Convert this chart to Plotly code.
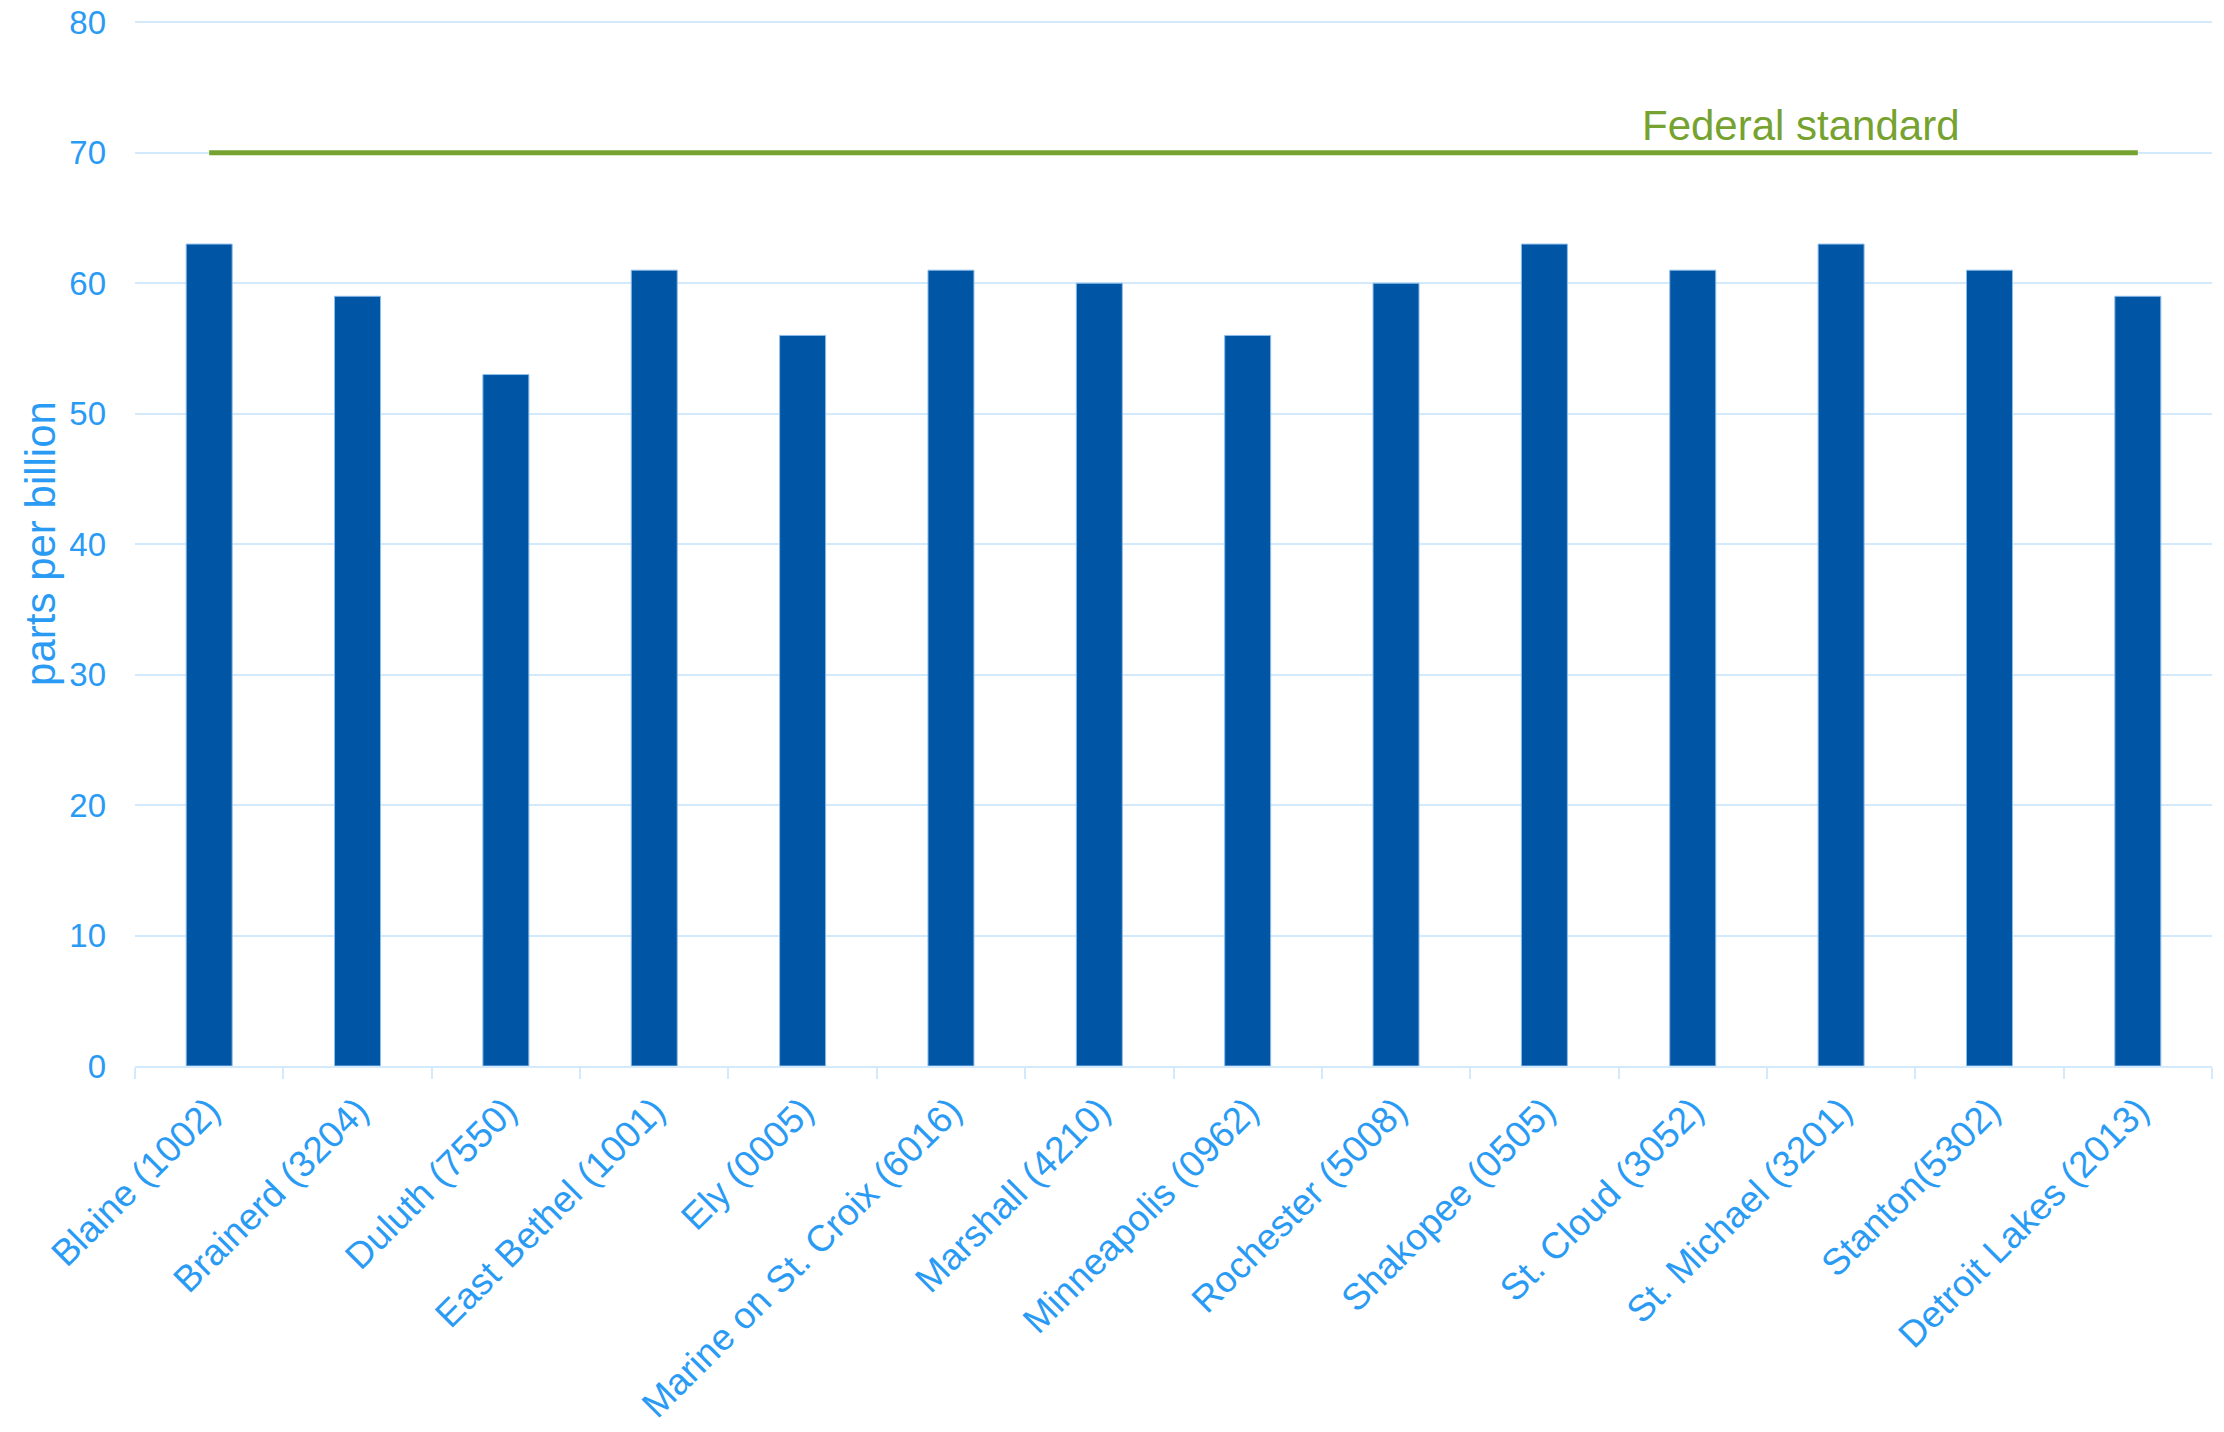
import plotly.graph_objects as go

categories = ["Blaine (1002)", "Brainerd (3204)", "Duluth (7550)", "East Bethel (1001)",
              "Ely (0005)", "Marine on St. Croix (6016)", "Marshall (4210)",
              "Minneapolis (0962)", "Rochester (5008)", "Shakopee (0505)",
              "St. Cloud (3052)", "St. Michael (3201)", "Stanton(5302)",
              "Detroit Lakes (2013)"]
values = [63, 59, 53, 61, 56, 61, 60, 56, 60, 63, 61, 63, 61, 59]
standard_value = 70
standard_label = "Federal standard"
y_ticks = [0, 10, 20, 30, 40, 50, 60, 70, 80]

TXT = "#2A9BF4"
BAR = "#0055A5"
GRID = "#D3EAFC"
GREEN = "#76A22F"
FONT = "Liberation Sans, Arial, sans-serif"

fig = go.Figure()
fig.add_trace(go.Bar(x=categories, y=values, marker=dict(color=BAR, line=dict(color="#8DBDEB", width=1)),
                     showlegend=False))
fig.add_trace(go.Scatter(x=[categories[0], categories[-1]], y=[standard_value, standard_value],
                         mode="lines", line=dict(color=GREEN, width=5), showlegend=False))
fig.add_annotation(x=10.73, y=72.1, xref="x", yref="y", text=standard_label, showarrow=False,
                   font=dict(family=FONT, size=42, color=GREEN), xanchor="center", yanchor="middle")

fig.update_layout(
    width=2224, height=1432,
    margin=dict(l=135, r=12, t=21, b=366),
    paper_bgcolor="white", plot_bgcolor="white",
    bargap=0.69,
    font=dict(family=FONT, color=TXT),
)
fig.update_xaxes(
    type="category", tickangle=-45, tickfont=dict(family=FONT, size=37, color=TXT),
    showline=True, linecolor=GRID, linewidth=2,
    ticks="outside", ticklen=11, tickcolor=GRID, tickwidth=2, tickson="boundaries",
    ticklabelstandoff=6,
    showgrid=False, automargin=False,
)
fig.update_yaxes(
    range=[0, 80.1], tickvals=y_ticks, tickfont=dict(family=FONT, size=33, color=TXT),
    showgrid=True, gridcolor=GRID, gridwidth=2, zeroline=False, showline=False,
    ticklabelstandoff=28, ticklabeloverflow="allow",
    title=dict(text="parts per billion", font=dict(family=FONT, size=42, color=TXT), standoff=0),
    automargin=False,
)

fig.write_html("out.html", config={"displayModeBar": False},
               post_script="document.body.style.margin='0';")
